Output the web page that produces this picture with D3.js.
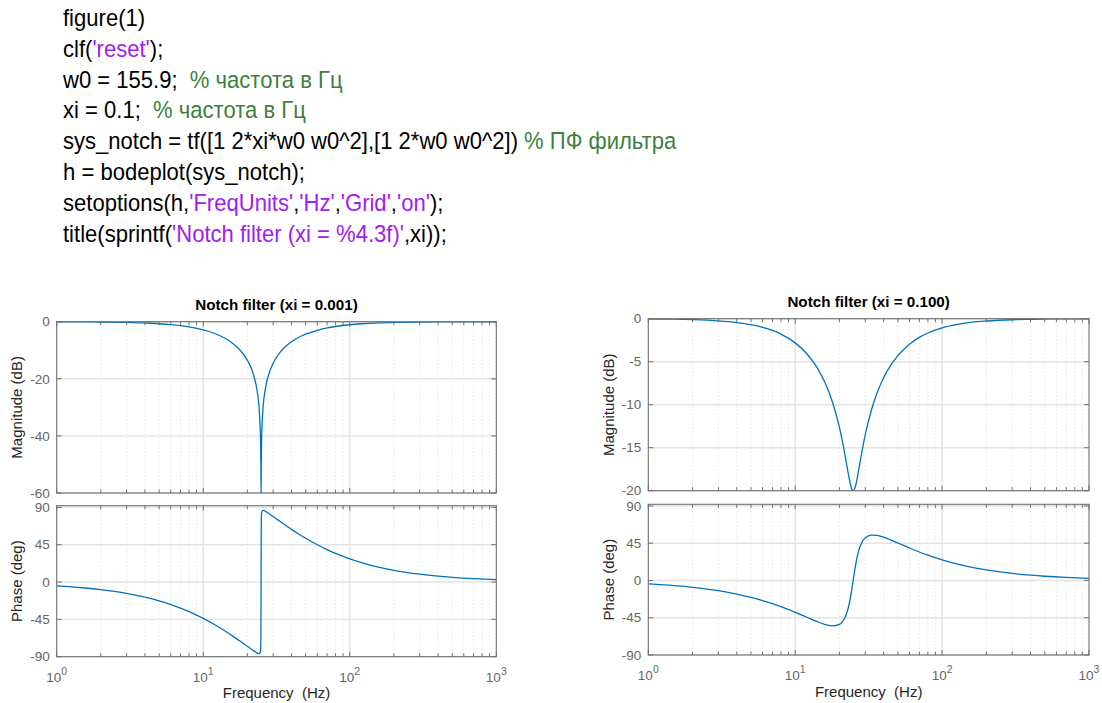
<!DOCTYPE html>
<html><head><meta charset="utf-8"><title>notch filter bode</title>
<script src="https://cdn.jsdelivr.net/npm/d3@7"></script>
<style>
	body	{ margin:0; background:#fff; }
	svg	{ display:block; font-family:"Liberation Sans",Arial,Helvetica,sans-serif; }
	.code	{ font-size:24.5px; white-space:pre; }
	.tick	{ font-size:13.5px; fill:#666; }
	.lab	{ font-size:15px; fill:#262626; white-space:pre; }
	.ttl	{ font-size:15.2px; font-weight:bold; fill:#000; }
</style>
</head><body>
<svg id="fig" width="1102" height="703"></svg>
<script>
// matlab listing, [text, k=plain s=string c=comment]
var codeLines=[
	[['figure(1)','k']],
	[['clf(','k'],["'reset'",'s'],[');','k']],
	[['w0 = 155.9;  ','k'],['% частота в Гц','c']],
	[['xi = 0.1;  ','k'],['% частота в Гц','c']],
	[['sys_notch = tf([1 2*xi*w0 w0^2],[1 2*w0 w0^2]) ','k'],['% ПФ фильтра','c']],
	[['h = bodeplot(sys_notch);','k']],
	[['setoptions(h,','k'],["'FreqUnits'",'s'],[',','k'],["'Hz'",'s'],[',','k'],["'Grid'",'s'],[',','k'],["'on'",'s'],[');','k']],
	[['title(sprintf(','k'],["'Notch filter (xi = %4.3f)'",'s'],[',xi));','k']]
];
// frequency points (Hz)
var freqHz=[1,1.5,2,3,4,5,6,7,8,10,12,14,16,18,20,21,22,23,24,24.3,24.6,24.75,24.81,24.9,25,25.5,26,27,28,30,33,36,40,45,50,60,70,80,100,130,160,200,300,400,500,700,1000];
// xi = 0.001
var magXi001=[-0.03,-0.06,-0.11,-0.25,-0.45,-0.71,-1.02,-1.39,-1.81,-2.85,-4.14,-5.73,-7.69,-10.16,-13.46,-15.64,-18.44,-22.43,-29.58,-33.64,-41.42,-51.63,-60,-48.5,-42.28,-31.24,-26.59,-21.47,-18.39,-14.53,-11.13,-8.97,-7.05,-5.45,-4.37,-3.0,-2.19,-1.68,-1.07,-0.63,-0.42,-0.27,-0.12,-0.07,-0.04,-0.02,-0.01];
var phaseXi001=[-4.62,-6.92,-9.21,-13.78,-18.3,-22.77,-27.16,-31.48,-35.7,-43.85,-51.55,-58.78,-65.5,-71.74,-77.5,-80.14,-82.64,-84.92,-86.37,-86.05,-82.8,-67.43,0,74.36,82.1,86.34,86.1,84.48,82.6,78.88,73.68,68.99,63.5,57.65,52.7,44.88,38.98,34.42,27.84,21.59,17.61,14.13,9.45,7.09,5.68,4.06,2.84];
// xi = 0.100
var magXi100=[-0.03,-0.06,-0.11,-0.25,-0.45,-0.7,-1.01,-1.37,-1.79,-2.81,-4.07,-5.61,-7.48,-9.77,-12.63,-14.32,-16.17,-18.05,-19.55,-19.82,-19.97,-20.0,-20.0,-19.99,-19.98,-19.69,-19.15,-17.68,-16.14,-13.48,-10.64,-8.68,-6.87,-5.35,-4.29,-2.96,-2.17,-1.66,-1.06,-0.63,-0.41,-0.27,-0.12,-0.07,-0.04,-0.02,-0.01];
var phaseXi100=[-4.15,-6.22,-8.29,-12.38,-16.42,-20.38,-24.25,-28.0,-31.63,-38.41,-44.42,-49.47,-53.18,-54.89,-53.04,-49.64,-43.42,-32.84,-16.46,-10.55,-4.37,-1.25,0,1.87,3.92,13.77,22.43,35.42,43.56,51.56,54.8,54.43,52.22,48.74,45.28,39.24,34.39,30.54,24.84,19.34,15.81,12.7,8.5,6.38,5.11,3.65,2.56];
var magTicks001=[0,-20,-40,-60], magTicks100=[0,-5,-10,-15,-20];
var phaseTicks=[90,45,0,-45,-90];
var decadeTicks=[1,10,100,1000];

var svg=d3.select('#fig');
svg.append('rect').attr('width',1102).attr('height',703).attr('fill','#fff');

// listing looks narrow in the picture: taller font squeezed sideways
var colorOf={k:'#000',s:'#a020f0',c:'#3d7f3d'};
codeLines.forEach(function(line,i){
	var t=svg.append('text').attr('class','code')
		.attr('transform','translate(63,'+(26+i*30.8)+') scale(0.9,1)');
	line.forEach(function(seg){ t.append('tspan').attr('fill',colorOf[seg[1]]).text(seg[0]); });
});

var minorHz=[];
[1,10,100].forEach(function(d){ for(var k=2;k<10;k++) minorHz.push(d*k); });

var panels=[
	{id:'a',title:'Notch filter (xi = 0.001)',x0:56.7,x1:496.3,ylab:22,titleY:309.7,
	 axes:[{top:321.7,bot:493,dom:[-60,0],ticks:magTicks001,vals:magXi001,label:'Magnitude (dB)'},
	       {top:505.7,bot:656.7,dom:[-90,92],ticks:phaseTicks,vals:phaseXi001,label:'Phase (deg)'}]},
	{id:'b',title:'Notch filter (xi = 0.100)',x0:648.3,x1:1089,ylab:613.5,titleY:306.7,
	 axes:[{top:318.7,bot:490.7,dom:[-20,0],ticks:magTicks100,vals:magXi100,label:'Magnitude (dB)'},
	       {top:504.3,bot:655,dom:[-90,92],ticks:phaseTicks,vals:phaseXi100,label:'Phase (deg)'}]}
];

panels.forEach(function(p){
	var x=d3.scaleLog().domain([1,1000]).range([p.x0,p.x1]);
	var g=svg.append('g');
	g.append('text').attr('class','ttl').attr('x',(p.x0+p.x1)/2).attr('y',p.titleY)
		.attr('text-anchor','middle').text(p.title);
	p.axes.forEach(function(a,j){
		var y=d3.scaleLinear().domain(a.dom).range([a.bot,a.top]);
		var ax=g.append('g');
		// grid
		ax.append('g').selectAll('line').data(minorHz).join('line')
			.attr('x1',x).attr('x2',x).attr('y1',a.top).attr('y2',a.bot)
			.attr('stroke','#d4d4d4').attr('stroke-width',0.8).attr('stroke-dasharray','1,2.5');
		ax.append('g').selectAll('line').data([10,100]).join('line')
			.attr('x1',x).attr('x2',x).attr('y1',a.top).attr('y2',a.bot)
			.attr('stroke','#e3e3e3').attr('stroke-width',1.4);
		ax.append('g').selectAll('line').data(a.ticks).join('line')
			.attr('x1',p.x0).attr('x2',p.x1).attr('y1',y).attr('y2',y)
			.attr('stroke','#e3e3e3').attr('stroke-width',1.4);
		// curve
		var cid='clip'+p.id+j;
		ax.append('clipPath').attr('id',cid).append('rect')
			.attr('x',p.x0).attr('y',a.top).attr('width',p.x1-p.x0).attr('height',a.bot-a.top);
		var line=d3.line().x(function(d,i){return x(freqHz[i]);}).y(function(d){return y(d);})
			.curve(d3.curveMonotoneX);
		ax.append('path').attr('d',line(a.vals)).attr('fill','none')
			.attr('stroke','#0072bd').attr('stroke-width',1.3).attr('clip-path','url(#'+cid+')');
		// box
		ax.append('rect').attr('x',p.x0).attr('y',a.top).attr('width',p.x1-p.x0).attr('height',a.bot-a.top)
			.attr('fill','none').attr('stroke','#707070').attr('stroke-width',1.1);
		// ticks, inward on all sides
		var tk=ax.append('g').attr('stroke','#707070').attr('stroke-width',1);
		a.ticks.forEach(function(v){
			tk.append('line').attr('x1',p.x0).attr('x2',p.x0+5).attr('y1',y(v)).attr('y2',y(v));
			tk.append('line').attr('x1',p.x1).attr('x2',p.x1-5).attr('y1',y(v)).attr('y2',y(v));
		});
		decadeTicks.concat(minorHz).forEach(function(f){
			var len=decadeTicks.indexOf(f)>=0?5:3.5;
			tk.append('line').attr('x1',x(f)).attr('x2',x(f)).attr('y1',a.bot).attr('y2',a.bot-len);
			tk.append('line').attr('x1',x(f)).attr('x2',x(f)).attr('y1',a.top).attr('y2',a.top+len);
		});
		ax.append('g').selectAll('text').data(a.ticks).join('text').attr('class','tick')
			.attr('x',p.x0-7).attr('y',y).attr('dy','0.35em').attr('text-anchor','end').text(function(d){return d;});
		ax.append('text').attr('class','lab').attr('text-anchor','middle')
			.attr('transform','translate('+p.ylab+','+((a.top+a.bot)/2)+') rotate(-90)').text(a.label);
		if(j==1){
			decadeTicks.forEach(function(f,i){
				var t=ax.append('text').attr('class','tick').attr('x',x(f)).attr('y',a.bot+25).attr('text-anchor','middle');
				t.append('tspan').text('10');
				t.append('tspan').attr('dy',-7).style('font-size','10.5px').text(i);
			});
			ax.append('text').attr('class','lab').attr('x',(p.x0+p.x1)/2).attr('y',a.bot+41.5)
				.attr('text-anchor','middle').text('Frequency  (Hz)');
		}
	});
});
</script>
</body></html>
